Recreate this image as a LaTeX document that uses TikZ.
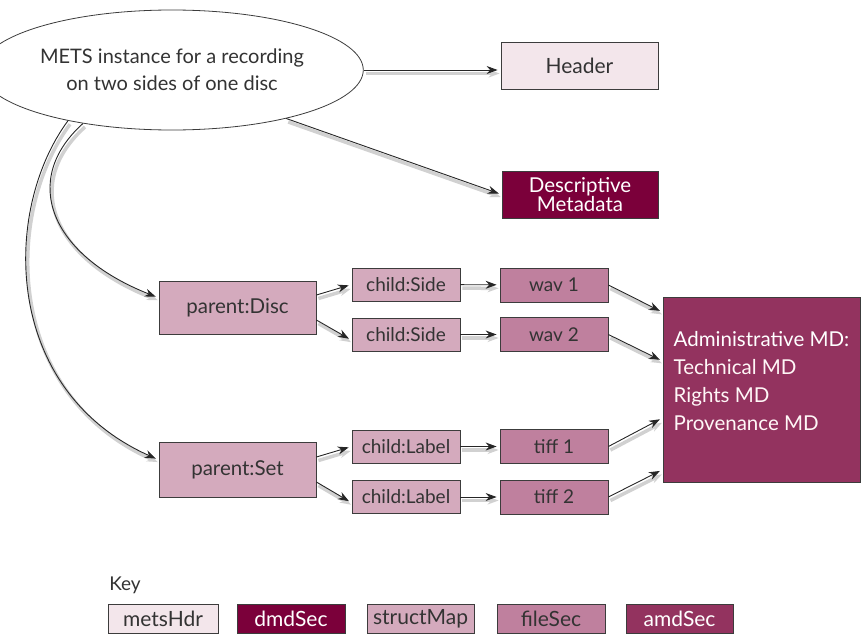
\documentclass[tikz,border=0pt]{standalone}
\usepackage{fontspec}
\setmainfont{Lato}
\usetikzlibrary{shapes.geometric,arrows.meta}

\definecolor{hdrcol}{HTML}{F3E6EB}
\definecolor{dmdcol}{HTML}{7B003A}
\definecolor{structcol}{HTML}{D4AABD}
\definecolor{filecol}{HTML}{BF809E}
\definecolor{amdcol}{HTML}{93335F}
\definecolor{textcol}{HTML}{333333}
\definecolor{edgecol}{HTML}{3C3C3C}

\begin{document}
\begin{tikzpicture}[x=1pt,y=-1pt,
  box/.style={draw=edgecol, line width=0.8pt, inner sep=0pt, text=textcol,
    font=\fontsize{19}{21}\selectfont},
  keybox/.style={box, minimum width=108, minimum height=29, font=\fontsize{21}{23}\selectfont},
  link/.style={draw=black!85, line width=0.9pt, -{Stealth[length=11pt,width=8pt]}, shorten >=3pt,
    preaction={draw=black!18, line width=3.5pt, transform canvas={shift={(2pt,-3.5pt)}}}},
]
\useasboundingbox (0,0) rectangle (861,634);

% the instance and its top level sections
\node[ellipse, draw=edgecol, line width=0.8pt, fill=white, minimum width=329, minimum height=120,
  align=center, text=textcol, font=\fontsize{20}{27}\selectfont] (mets) at (172,70)
  {METS instance for a recording\\on two sides of one disc};
\node[box, fill=hdrcol, minimum width=157, minimum height=47, font=\fontsize{21}{23}\selectfont]
  (hdr) at (579.5,65.5) {Header};
\node[box, fill=dmdcol, text=white, minimum width=156, minimum height=47, align=center,
  font=\fontsize{20.5}{19}\selectfont] (dmd) at (580,194.5) {Descriptive\\Metadata};

% structural map
\node[box, fill=structcol, minimum width=157, minimum height=53, font=\fontsize{20.5}{22}\selectfont]
  (disc) at (237.5,307.5) {parent:Disc};
\node[box, fill=structcol, minimum width=108, minimum height=33] (side1) at (406,284.5) {child:Side};
\node[box, fill=structcol, minimum width=108, minimum height=33] (side2) at (406,334.5) {child:Side};
\node[box, fill=structcol, minimum width=157, minimum height=55, font=\fontsize{20.5}{22}\selectfont]
  (set) at (237.5,469.5) {parent:Set};
\node[box, fill=structcol, minimum width=108, minimum height=33] (lab1) at (406,446.5) {child:Label};
\node[box, fill=structcol, minimum width=108, minimum height=33] (lab2) at (406,497) {child:Label};

% files
\node[box, fill=filecol, minimum width=108, minimum height=34] (wav1) at (554,285) {wav 1};
\node[box, fill=filecol, minimum width=108, minimum height=34] (wav2) at (554,334.5) {wav 2};
\node[box, fill=filecol, minimum width=108, minimum height=34] (tiff1) at (554,446.5) {tiff 1};
\node[box, fill=filecol, minimum width=108, minimum height=34] (tiff2) at (554,497) {tiff 2};

% administrative metadata
\node[box, fill=amdcol, text=white!88!pink, minimum width=197, minimum height=185, align=left,
  font=\fontsize{20.5}{28}\selectfont] (amd) at (761.5,389.5)
  {\textcolor{white}{Administrative MD:}\\Technical MD\\Rights MD\\Provenance MD\\[-10pt]\mbox{}};

% connectors
\draw[link] (mets.east) -- (mets.east -| hdr.west);
\draw[link] (mets.-23) -- (dmd.west);
\draw[link] (mets.211) .. controls (20,180) and (50,255) .. (disc.173);
\draw[link] (mets.206) .. controls (2,210) and (2,390) .. (set.173);

\draw[link] (disc.9) -- (side1.west);
\draw[link] (disc.-9) -- (side2.186);
\draw[link] (set.9) -- (lab1.west);
\draw[link] (set.-9) -- (lab2.186);

\draw[link] (side1) -- (wav1);
\draw[link] (side2) -- (wav2);
\draw[link] (lab1) -- (tiff1);
\draw[link] (lab2) -- (tiff2);

\draw[link] (wav1.east) -- (amd.142);
\draw[link] (wav2.east) -- (amd.164);
\draw[link] (tiff1.east) -- (amd.196);
\draw[link] (tiff2.east) -- (amd.219);

% key
\node[text=textcol, font=\fontsize{19}{21}\selectfont] (key) at (125,585) {Key};
\node[keybox, fill=hdrcol, minimum width=110] (khdr) at (163,619) {metsHdr};
\node[keybox, fill=dmdcol, text=white] (kdmd) at (291,619) {dmdSec};
\node[keybox, fill=structcol, minimum width=107] (kstruct) at (420.5,619) {structMap};
\node[keybox, fill=filecol] (kfile) at (551,619) {fileSec};
\node[keybox, fill=amdcol, text=white, minimum width=107] (kamd) at (679.5,619) {amdSec};

\end{tikzpicture}
\end{document}
